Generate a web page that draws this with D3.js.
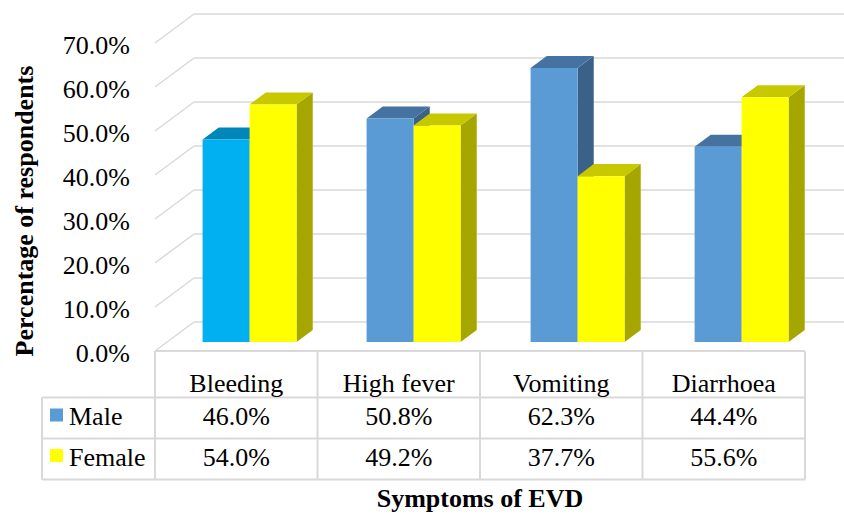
<!DOCTYPE html>
<html>
<head>
<meta charset="utf-8">
<script src="https://cdn.jsdelivr.net/npm/d3@7"></script>
<style>
  html, body { margin: 0; padding: 0; background: #fff; }
  svg { display: block; }
</style>
</head>
<body>
<svg id="chart" width="844" height="514"></svg>
<script>
const categories = ["Bleeding", "High fever", "Vomiting", "Diarrhoea"];
const maleValues = [46.0, 50.8, 62.3, 44.4];
const femaleValues = [54.0, 49.2, 37.7, 55.6];
const yTicks = [0, 10, 20, 30, 40, 50, 60, 70];
const seriesNames = ["Male", "Female"];
const xTitle = "Symptoms of EVD";
const yTitle = "Percentage of respondents";

const FONT = "'Liberation Serif', 'Times New Roman', serif";
const svg = d3.select("#chart").attr("font-family", FONT);
const W = 844;

// 3D projection setup
const floorFrontLeft = 155, floorFrontRight = 805;
const depthDX = 39, depthDY = 29;
const y = d3.scaleLinear().domain([0, 70]).range([351, 43]);
const xBars = d3.scaleBand().domain(categories).range([155, 811]);
const xTable = d3.scaleBand().domain(categories).range([floorFrontLeft, floorFrontRight]);
const P = (xf, v, d) => [xf + d * depthDX, y(v) - d * depthDY];

const gridColor = "#d9d9d9";

// gridlines (left wall + back wall)
const grid = svg.append("g");
yTicks.forEach(v => {
  const a = P(floorFrontLeft, v, 0), b = P(floorFrontLeft, v, 1);
  grid.append("line").attr("x1", a[0]).attr("y1", a[1]).attr("x2", b[0]).attr("y2", b[1])
    .attr("stroke", gridColor).attr("stroke-width", 1.5);
  grid.append("line").attr("x1", b[0]).attr("y1", b[1]).attr("x2", W + 2).attr("y2", b[1])
    .attr("stroke", gridColor).attr("stroke-width", 1.5);
});

// y tick labels
svg.append("g").selectAll("text").data(yTicks).join("text")
  .attr("font-family", FONT)
  .attr("x", 130).attr("y", d => y(d) + 10.5)
  .attr("text-anchor", "end").attr("font-size", 26)
  .text(d => d.toFixed(1) + "%");

// bars
const d1 = 0.31, d2 = 0.724, barW = 47;
const styles = {
  male: { front: "#5b9bd5", top: "#4473a2", side: "#3a6188" },
  maleFirst: { front: "#00b0f0", top: "#0087b9", side: "#0077a3" },
  female: { front: "#ffff00", top: "#c8c800", side: "#a6a600" }
};
function drawBar(g, xf, v, st) {
  const fl = P(xf, v, d1), fr = P(xf + barW, v, d1), fb = P(xf + barW, 0, d1), fbl = P(xf, 0, d1);
  const bl = P(xf, v, d2), br = P(xf + barW, v, d2), bb = P(xf + barW, 0, d2);
  g.append("polygon").attr("points", [fr, br, bb, fb].map(p => p.join(",")).join(" ")).attr("fill", st.side);
  g.append("polygon").attr("points", [fl, bl, br, fr].map(p => p.join(",")).join(" ")).attr("fill", st.top);
  g.append("polygon").attr("points", [fl, fr, fb, fbl].map(p => p.join(",")).join(" ")).attr("fill", st.front);
}
const bars = svg.append("g");
categories.forEach((c, i) => {
  const x0 = xBars(c) + 35.5;
  drawBar(bars, x0, maleValues[i], i === 0 ? styles.maleFirst : styles.male);
  drawBar(bars, x0 + barW, femaleValues[i], styles.female);
});

// data table
const tbl = svg.append("g");
const rowTop = 351, rowMale = 397.5, rowFemale = 438.5, rowEnd = 479.5, tblLeft = 42;
const tLine = (x1, y1, x2, y2) => tbl.append("line").attr("x1", x1).attr("y1", y1).attr("x2", x2).attr("y2", y2)
  .attr("stroke", gridColor).attr("stroke-width", 2);
tLine(floorFrontLeft, rowTop, floorFrontRight, rowTop);
tLine(tblLeft, rowMale, floorFrontRight, rowMale);
tLine(tblLeft, rowFemale, floorFrontRight, rowFemale);
tLine(tblLeft, rowEnd, floorFrontRight, rowEnd);
tLine(tblLeft, rowMale, tblLeft, rowEnd);
const colEdges = categories.map(c => xTable(c)).concat([floorFrontRight]);
colEdges.forEach(xe => tLine(xe, rowTop, xe, rowEnd));

tbl.selectAll("text.cat").data(categories).join("text").attr("class", "cat")
  .attr("font-family", FONT)
  .attr("x", c => xTable(c) + xTable.bandwidth() / 2).attr("y", 391.5)
  .attr("text-anchor", "middle").attr("font-size", 26).text(c => c);
tbl.selectAll("text.m").data(maleValues).join("text").attr("class", "m")
  .attr("font-family", FONT)
  .attr("x", (d, i) => xTable(categories[i]) + xTable.bandwidth() / 2).attr("y", 425)
  .attr("text-anchor", "middle").attr("font-size", 26).text(d => d.toFixed(1) + "%");
tbl.selectAll("text.f").data(femaleValues).join("text").attr("class", "f")
  .attr("font-family", FONT)
  .attr("x", (d, i) => xTable(categories[i]) + xTable.bandwidth() / 2).attr("y", 466)
  .attr("text-anchor", "middle").attr("font-size", 26).text(d => d.toFixed(1) + "%");

// legend keys in table
const keyColors = ["#5b9bd5", "#ffff00"];
const keyRows = [{ sy: 408.5, ty: 425 }, { sy: 449, ty: 466 }];
seriesNames.forEach((s, i) => {
  tbl.append("rect").attr("x", 50).attr("y", keyRows[i].sy).attr("width", 13).attr("height", 13).attr("fill", keyColors[i]);
  tbl.append("text").attr("font-family", FONT).attr("x", 69).attr("y", keyRows[i].ty).attr("font-size", 26).text(s);
});

// axis titles
svg.append("text").attr("font-family", FONT).attr("x", 480).attr("y", 507).attr("text-anchor", "middle")
  .attr("font-size", 26).attr("font-weight", "bold").text(xTitle);
svg.append("text").attr("font-family", FONT).attr("transform", "translate(33,211) rotate(-90)").attr("text-anchor", "middle")
  .attr("font-size", 26).attr("font-weight", "bold").text(yTitle);
</script>
</body>
</html>
